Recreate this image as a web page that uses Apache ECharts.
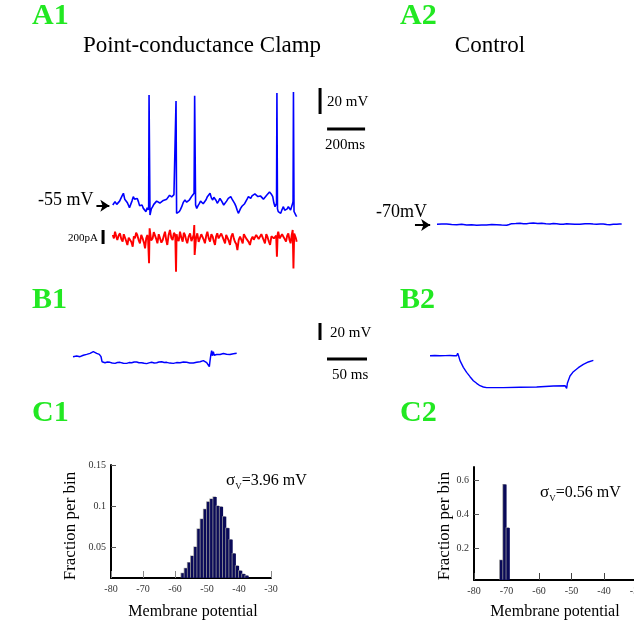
<!DOCTYPE html>
<html><head><meta charset="utf-8">
<script src="https://cdn.jsdelivr.net/npm/echarts@6/dist/echarts.min.js"></script>
<style>html,body{margin:0;padding:0;background:#fff}#c{width:634px;height:625px}</style>
</head><body><div id="c"></div>
<script>
// ---------- DATA ----------
// A1: point-conductance clamp, membrane potential [ms, mV]
const a1Voltage = [[4,-55.0],[16,-52.4],[25,-54.5],[33,-53.7],[40,-52.0],[46,-51.2],[53,-48.0],[60,-46.0],[67,-50.5],[74,-49.9],[80,-53.0],[86,-55.0],[92,-57.0],[98,-57.6],[105,-52.0],[112,-48.6],[119,-50.5],[126,-51.2],[133,-50.0],[139,-52.4],[145,-55.5],[151,-56.3],[158,-55.0],[165,-57.6],[172,-58.2],[179,-60.1],[185,-57.0],[191,-58.8],[193,-56.0],[195,29.6],[200,-62.7],[207,-58.0],[214,-56.3],[220,-54.5],[226,-53.7],[235,-52.0],[244,-51.2],[252,-53.5],[261,-53.7],[270,-51.5],[279,-52.4],[288,-50.5],[296,-49.9],[303,-47.5],[309,-46.0],[314,-48.8],[319,-48.6],[326,-47.0],[332,-47.3],[335,-46.5],[337,25.0],[340,-61.4],[347,-60.0],[354,-60.1],[360,-58.5],[367,-56.3],[375,-53.0],[384,-51.2],[393,-52.8],[402,-53.7],[408,-51.0],[414,-49.9],[421,-48.0],[428,-47.3],[432,-46.0],[435,29.0],[440,-55.0],[446,-57.6],[453,-55.5],[460,-53.7],[466,-52.0],[472,-51.2],[480,-54.0],[489,-55.0],[495,-51.0],[502,-48.6],[509,-47.5],[516,-46.0],[523,-49.5],[530,-51.2],[536,-49.0],[542,-48.6],[548,-51.5],[554,-53.7],[561,-52.0],[568,-49.9],[575,-51.5],[582,-52.4],[588,-55.0],[595,-56.3],[603,-52.0],[612,-49.9],[618,-48.6],[625,-48.6],[632,-50.5],[639,-51.2],[646,-54.0],[653,-56.3],[659,-59.0],[665,-61.4],[671,-60.0],[677,-57.6],[684,-56.0],[691,-56.3],[698,-54.0],[705,-53.7],[711,-50.5],[718,-48.6],[724,-50.0],[730,-49.9],[737,-48.0],[744,-47.3],[752,-46.5],[761,-46.0],[768,-48.5],[775,-49.9],[781,-48.0],[788,-48.6],[797,-50.5],[805,-51.2],[814,-47.5],[823,-46.0],[829,-45.0],[835,-44.7],[840,-47.0],[846,-48.6],[852,-53.5],[858,-56.3],[863,-55.0],[866,-53.7],[868,31.2],[871,-58.0],[875,-60.1],[881,-61.0],[888,-61.4],[895,-58.5],[902,-56.3],[909,-59.0],[916,-60.1],[922,-58.0],[928,-56.3],[934,-57.5],[940,-58.8],[946,-56.0],[951,-53.7],[953,-52.0],[955,31.9],[958,-60.0],[963,-61.4],[968,-63.0],[972,-64.0]];
// A1: injected current [ms, pA]
const a1Current = [[4,29],[10,-20],[16,76],[22,10],[28,-43],[35,20],[42,52],[49,-30],[56,-67],[62,40],[68,29],[75,-60],[81,-114],[88,-10],[95,5],[102,-70],[109,-138],[115,10],[121,-19],[127,60],[133,29],[140,-40],[147,-90],[154,30],[161,-19],[168,-80],[174,-162],[180,-20],[186,29],[190,-40],[195,-376],[198,124],[206,-50],[214,-19],[220,70],[226,52],[233,-30],[239,-90],[246,40],[253,29],[260,-80],[267,-43],[273,20],[279,76],[285,-40],[291,-114],[298,30],[305,100],[312,-10],[319,-43],[326,60],[333,29],[337,-495],[340,40],[344,-19],[351,-60],[358,76],[365,-10],[372,-67],[378,60],[384,29],[390,-40],[396,-90],[404,10],[411,52],[418,-60],[425,-43],[430,30],[433,171],[435,-257],[442,-20],[449,52],[456,-70],[463,-43],[470,40],[477,29],[483,-40],[489,-90],[496,20],[502,76],[509,-20],[516,-67],[523,40],[530,5],[536,-60],[542,-114],[548,10],[554,52],[561,-20],[568,-43],[575,50],[582,29],[588,-40],[595,-90],[601,30],[607,5],[614,-50],[621,-114],[628,10],[635,52],[641,-20],[647,-67],[654,-100],[660,-186],[667,-40],[674,5],[681,-40],[688,-90],[694,40],[700,29],[706,-20],[712,-43],[719,-70],[726,-114],[733,-30],[740,5],[746,-40],[753,-67],[759,30],[765,52],[772,-30],[779,-43],[786,40],[793,29],[799,-50],[805,-90],[812,40],[818,5],[825,-60],[832,-114],[839,10],[846,29],[852,-20],[858,-43],[864,20],[868,-281],[872,40],[875,76],[882,-20],[888,-43],[895,40],[902,29],[909,-30],[916,-67],[922,20],[928,52],[934,-40],[940,-90],[946,30],[951,100],[955,-448],[959,50],[963,76],[968,-20],[972,-67]];
// A2: control, membrane potential [ms, mV]
const a2Voltage = [[0,-70.0],[25,-69.8],[51,-69.7],[77,-70.1],[104,-70.3],[130,-70.0],[156,-70.5],[182,-70.4],[209,-70.8],[235,-70.5],[261,-70.5],[288,-70.2],[314,-70.3],[340,-70.6],[367,-70.8],[380,-70.2],[393,-69.5],[415,-69.4],[437,-69.2],[455,-69.6],[472,-69.5],[490,-69.1],[507,-69.0],[530,-69.4],[551,-69.2],[573,-69.6],[595,-69.7],[612,-69.4],[630,-69.5],[648,-69.9],[665,-70.0],[683,-69.6],[700,-69.7],[726,-70.0],[753,-70.0],[779,-69.6],[805,-69.5],[822,-69.8],[840,-70.0],[858,-69.7],[875,-69.7],[893,-70.1],[910,-70.3],[928,-70.0],[946,-70.0],[960,-69.8],[972,-69.7]];
// B1: response to current step, point-conductance clamp [ms, mV]
const b1Voltage = [[0,-54.6],[2.5,-54.0],[4.6,-53.8],[6.5,-54.5],[8.8,-54.6],[11,-53.6],[12.9,-53.0],[15,-53.4],[17.1,-51.9],[19,-52.3],[21.3,-50.7],[23.5,-50.2],[25.4,-48.7],[27.5,-49.8],[29.6,-50.7],[31.5,-51.5],[32.9,-51.9],[35,-54.6],[36.3,-60.5],[38,-61.5],[40,-61.7],[43,-60.9],[46.3,-61.3],[49,-62.1],[52.5,-62.5],[55.5,-61.5],[58.8,-61.3],[63,-62.3],[67.1,-62.5],[70,-61.6],[73.3,-61.7],[76.5,-60.8],[79.6,-60.9],[82.5,-61.8],[85.8,-61.7],[89,-62.4],[92.1,-62.8],[95,-61.9],[98.3,-61.3],[101.5,-62.0],[104.6,-61.7],[107.5,-60.8],[110.8,-60.5],[114,-61.4],[117.1,-61.3],[121,-62.2],[125.4,-62.5],[129.5,-61.6],[133.8,-61.7],[138,-60.9],[142.1,-61.3],[146,-62.0],[150.4,-62.1],[154.5,-61.2],[158.8,-60.5],[162.9,-59.3],[165,-60.2],[167.1,-61.7],[169.5,-63.5],[170.4,-66.4],[171.2,-60.0],[172.1,-53.8],[173.3,-47.5],[174.2,-53.5],[175.4,-48.7],[176.5,-53.0],[177.5,-54.6],[179.5,-52.0],[181.7,-50.7],[183.8,-52.0],[185.8,-52.6],[188,-51.0],[190,-49.9],[192,-51.8],[194.2,-53.0],[196.2,-52.1],[198.3,-52.6],[200.5,-51.2],[202.5,-50.7],[204.6,-50.7]];
// B2: response to current step, control [ms, mV]
const b2Voltage = [[0,-70.0],[6,-69.8],[12.5,-70.0],[19,-69.9],[25,-69.7],[30,-70.0],[33.3,-70.0],[34.6,-67.2],[35.8,-70.4],[37.5,-75.8],[41.7,-83.7],[45.8,-89.6],[50,-94.7],[54.2,-99.4],[58.3,-102.5],[62.5,-105.3],[66.7,-106.8],[70.8,-107.6],[91.7,-107.6],[112.5,-107.2],[133.3,-106.8],[154.2,-105.6],[168.8,-105.3],[170.8,-108.4],[171.7,-102.5],[175,-93.9],[179.2,-88.8],[185.4,-84.1],[191.7,-80.2],[197.9,-77.4],[204.2,-75.4]];
// C1 histogram (bin centres mV, fraction per bin)
const c1Bins = [-57.5,-56.5,-55.5,-54.5,-53.5,-52.5,-51.5,-50.5,-49.5,-48.5,-47.5,-46.5,-45.5,-44.5,-43.5,-42.5,-41.5,-40.5,-39.5,-38.5,-37.5];
const c1Fraction = [0.018,0.024,0.031,0.039,0.050,0.072,0.084,0.096,0.105,0.1085,0.111,0.100,0.099,0.087,0.073,0.059,0.042,0.027,0.021,0.017,0.015];
// C2 histogram
const c2Bins = [-71.5,-70.5,-69.5];
const c2Fraction = [0.13,0.575,0.32];
// tick labels
const c1YTicks = [0.05,0.1,0.15];
const c2YTicks = [0.2,0.4,0.6];
const histXTicks = [-80,-70,-60,-50,-40,-30];
// scale bars (data units)
const A1_MV_BAR = [15,35];          // 20 mV
const A1_MS_BAR = [1132,1332];      // 200 ms
const A1_PA_BAR = [-100,100];       // 200 pA
const B_MV_BAR = [-35,-15];         // 20 mV
const B_MS_BAR = [317.5,367.5];     // 50 ms
const A1_REST = -55, A2_REST = -70;

// ---------- CHART ----------
const FONT = '"Liberation Serif","Times New Roman",serif';
const chart = echarts.init(document.getElementById('c'), null, {renderer:'canvas'});

function hiddenAxis(i,min,max){return {gridIndex:i,type:'value',min:min,max:max,show:false};}
function trace(i,data,color,w,extra){return Object.assign({type:'line',xAxisIndex:i,yAxisIndex:i,data:data,symbol:'none',showSymbol:false,silent:true,clip:false,animation:false,lineStyle:{color:color,width:w}},extra||{});}
function bar(i,data){return {type:'line',xAxisIndex:i,yAxisIndex:i,data:data,symbol:'none',silent:true,clip:false,animation:false,lineStyle:{color:'#000',width:3,cap:'butt'}};}
function arrow(x0,x1,y){return {silent:true,symbol:['none','arrow'],symbolSize:9,animation:false,label:{show:false},lineStyle:{color:'#000',width:2,type:'solid'},data:[[{coord:[x0,y]},{coord:[x1,y]}]]};}

function T(text,x,y,size,align,more){
  more=more||{};
  return {type:'text',x:x,y:y,rotation:more.rotation||0,silent:true,z:100,
    style:Object.assign({text:text,fontSize:size,fontFamily:FONT,fontWeight:more.weight||'normal',fill:more.fill||'#000',
      align:align||'left',textAlign:align||'left',verticalAlign:'middle',textVerticalAlign:'middle'},more.style||{})};
}
const GREEN='#22e822';
function sigma(val,x,y){
  return {type:'text',x:x,y:y,silent:true,z:100,style:{text:'{s|σ}{v|V}{n|='+val+' mV}',fontFamily:FONT,align:'left',textAlign:'left',verticalAlign:'middle',textVerticalAlign:'middle',fill:'#000',
    rich:{s:{fontSize:17,fontFamily:FONT,lineHeight:20,verticalAlign:'middle'},v:{fontSize:9,fontFamily:FONT,lineHeight:20,verticalAlign:'bottom'},n:{fontSize:16,fontFamily:FONT,lineHeight:20,verticalAlign:'middle'}}}};
}

const histAxisX = (i,tickColor)=>({gridIndex:i,type:'value',min:-80,max:-30,interval:10,
  axisLine:{show:true,onZero:false,lineStyle:{color:'#000',width:2}},
  axisTick:{show:true,inside:true,length:7,lineStyle:{color:tickColor,width:1}},
  axisLabel:{show:true,fontSize:10,fontFamily:FONT,color:'#333',margin:6,customValues:histXTicks},
  splitLine:{show:false}});
const histAxisY = (i,min,max,ticks)=>({gridIndex:i,type:'value',min:min,max:max,
  axisLine:{show:true,onZero:false,lineStyle:{color:'#000',width:2}},
  axisTick:{show:true,inside:true,length:5,customValues:ticks,lineStyle:{color:'#555',width:1}},
  axisLabel:{show:true,fontSize:10,fontFamily:FONT,color:'#333',margin:5,customValues:ticks,formatter:v=>String(v)},
  splitLine:{show:false}});
const histStyle = {color:'#0a0a58',shadowColor:'#9a9a9a',shadowOffsetX:-0.8,shadowOffsetY:-0.5,shadowBlur:0};

const option = {
  animation:false,
  backgroundColor:'#fff',
  grid:[
    {left:93,top:81.5,width:275.5,height:143,outerBoundsMode:'none'},   // 0 A1 Vm
    {left:93,top:223,width:275.5,height:56,outerBoundsMode:'none'},     // 1 A1 current
    {left:408.5,top:211.3,width:218.5,height:26,outerBoundsMode:'none'},// 2 A2
    {left:73,top:318.75,width:304,height:51,outerBoundsMode:'none'},    // 3 B1
    {left:430,top:347.2,width:168,height:46.75,outerBoundsMode:'none'}, // 4 B2
    {left:111,top:465,width:160,height:113,outerBoundsMode:'none'},     // 5 C1
    {left:474,top:467,width:162.5,height:113,outerBoundsMode:'none'}    // 6 C2
  ],
  xAxis:[
    hiddenAxis(0,-100,1350),hiddenAxis(1,-100,1350),hiddenAxis(2,-150,1000),
    hiddenAxis(3,0,380),hiddenAxis(4,0,210),
    histAxisX(5,'#888'),histAxisX(6,'#444')
  ],
  yAxis:[
    hiddenAxis(0,-70,40),hiddenAxis(1,-600,200),hiddenAxis(2,-80,-60),
    hiddenAxis(3,-70,-10),hiddenAxis(4,-115,-60),
    histAxisY(5,0.0122,0.15,c1YTicks),histAxisY(6,0.0135,0.678,c2YTicks)
  ],
  series:[
    trace(0,a1Voltage,'#0000ff',1.6,{markLine:arrow(-82,-14,A1_REST-0.5)}),
    trace(1,a1Current,'#ff0000',1.9),
    trace(2,a2Voltage,'#0000ff',1.5,{markLine:arrow(-116,-36,A2_REST-0.5)}),
    trace(3,b1Voltage,'#0000ff',1.5),
    trace(4,b2Voltage,'#0000ff',1.4),
    bar(0,[[1095,A1_MV_BAR[0]],[1095,A1_MV_BAR[1]]]),
    bar(0,[[A1_MS_BAR[0],3.5],[A1_MS_BAR[1],3.5]]),
    bar(1,[[-47,A1_PA_BAR[0]],[-47,A1_PA_BAR[1]]]),
    bar(3,[[308.75,B_MV_BAR[0]],[308.75,B_MV_BAR[1]]]),
    bar(3,[[B_MS_BAR[0],-57.35],[B_MS_BAR[1],-57.35]]),
    {type:'bar',xAxisIndex:5,yAxisIndex:5,data:c1Bins.map((b,i)=>[b,c1Fraction[i]]),barWidth:3.4,silent:true,animation:false,itemStyle:histStyle},
    {type:'bar',xAxisIndex:6,yAxisIndex:6,data:c2Bins.map((b,i)=>[b,c2Fraction[i]]),barWidth:3.4,silent:true,animation:false,itemStyle:histStyle}
  ],
  graphic:{elements:[
    T('A1',32,16,30,'left',{weight:'bold',fill:GREEN}),
    T('A2',400,16,30,'left',{weight:'bold',fill:GREEN}),
    T('B1',32,300,30,'left',{weight:'bold',fill:GREEN}),
    T('B2',400,300,30,'left',{weight:'bold',fill:GREEN}),
    T('C1',32,413,30,'left',{weight:'bold',fill:GREEN}),
    T('C2',400,413,30,'left',{weight:'bold',fill:GREEN}),
    T('Point-conductance Clamp',202,46,23,'center'),
    T('Control',490,46,23,'center'),
    T('-55 mV',38,200,18,'left'),
    T('-70mV',376,212,18,'left'),
    T('200pA',98,238,11,'right'),
    T('20 mV',327,102,15,'left'),
    T('200ms',325,145,15,'left'),
    T('20 mV',330,333,15,'left'),
    T('50 ms',332,375,15,'left'),
    sigma('3.96',226,481),
    sigma('0.56',540,493),
    T('Fraction per bin',71,526,17,'center',{rotation:Math.PI/2}),
    T('Fraction per bin',445,526,17,'center',{rotation:Math.PI/2}),
    T('Membrane potential',193,612,16,'center'),
    T('Membrane potential',555,612,16,'center')
  ]}
};
chart.setOption(option);
</script>
</body></html>
